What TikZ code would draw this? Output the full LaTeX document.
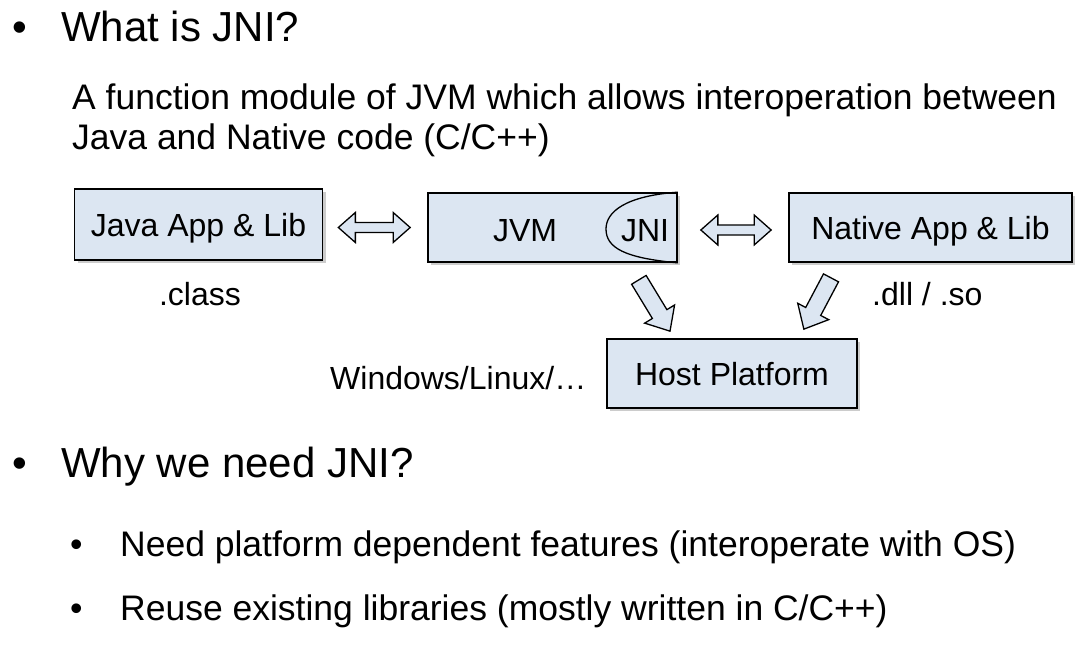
\documentclass[tikz,border=0pt]{standalone}
\usepackage{fontspec}
\setmainfont{Liberation Sans}
\usetikzlibrary{calc,shadows}

\definecolor{boxblue}{RGB}{220,230,242}

% hollow block arrow, tail #1 to tip #2
\newcommand\flowarrow[2]{%
  \coordinate (hb) at ($(#2)!20pt!(#1)$);
  \draw[blockarr] ($(#1)!8.5pt!90:(#2)$) -- ($(hb)!8.5pt!-90:(#1)$) -- ($(hb)!17.5pt!-90:(#1)$)
    -- (#2) -- ($(hb)!17.5pt!90:(#1)$) -- ($(hb)!8.5pt!90:(#1)$) -- ($(#1)!8.5pt!-90:(#2)$) -- cycle;}
% hollow double block arrow between #1 and #2
\newcommand\dblarrow[2]{%
  \coordinate (ha) at ($(#1)!17pt!(#2)$);
  \coordinate (hb) at ($(#2)!17pt!(#1)$);
  \draw[blockarr] (#1) -- ($(ha)!15pt!90:(#2)$) -- ($(ha)!5pt!90:(#2)$) -- ($(hb)!5pt!-90:(#1)$)
    -- ($(hb)!15pt!-90:(#1)$) -- (#2) -- ($(hb)!15pt!90:(#1)$) -- ($(hb)!5pt!90:(#1)$)
    -- ($(ha)!5pt!-90:(#2)$) -- ($(ha)!15pt!-90:(#2)$) -- cycle;}

\begin{document}
\begin{tikzpicture}
  [x=1pt,y=-1pt,
   box/.style={draw,line width=1.7pt,fill=boxblue,
     drop shadow={shadow xshift=3pt,shadow yshift=-3pt,opacity=.4},
     text height=23pt,text depth=0pt,font=\fontsize{32}{38}\selectfont},
   lbl/.style={anchor=base west,inner sep=0pt,font=\fontsize{32}{38}\selectfont},
   head/.style={anchor=base west,inner sep=0pt,font=\fontsize{42}{50}\selectfont},
   body/.style={anchor=base west,inner sep=0pt,font=\fontsize{35.5}{42}\selectfont},
   blockarr/.style={draw,line width=1.3pt,fill=boxblue,line join=miter}]
  \useasboundingbox (0,0) rectangle (1089,647);

  % headings and text
  \node[head] (b1) at (12,42) {•};
  \node[head] (what) at (61,42) {What is JNI?};
  \node[body] (def1) at (72,110) {A function module of JVM which allows interoperation between};
  \node[body] (def2) at (72,150) {Java and Native code (C/C++)};
  \node[head] (b2) at (12,477) {•};
  \node[head] (why) at (61,477) {Why we need JNI?};
  \node[body] (b3) at (70,556) {•};
  \node[body] (need) at (120,556) {Need platform dependent features (interoperate with OS)};
  \node[body] (b4) at (70,620) {•};
  \node[body] (reuse) at (120,620) {Reuse existing libraries (mostly written in C/C++)};

  % boxes
  \node[box,minimum width=248pt,minimum height=71pt] (java) at (198.5,224.5) {Java App \& Lib};
  \node[box,minimum width=249pt,minimum height=69pt] (jvm) at (552.5,227.5) {};
  \node[box,minimum width=283pt,minimum height=69pt] (native) at (930.5,227.5) {Native App \& Lib};
  \node[box,minimum width=250pt,minimum height=69pt] (host) at (732,373.5) {Host Platform};
  \node[lbl,anchor=base] (jvmtxt) at (525,241) {JVM};
  \node[lbl,anchor=base] (jnitxt) at (645,241) {JNI};
  \draw[line width=1.3pt] (jvm.north east) .. controls (625,196) and (606,212) .. (606,229)
    .. controls (606,248) and (625,258) .. (jvm.south east);

  \node[lbl,anchor=base] (cls) at (200,305) {.class};
  \node[lbl] (dll) at (872,305) {.dll / .so};
  \node[lbl] (os) at (330,389) {Windows/Linux/…};

  % arrows
  \coordinate (jaR) at ($(java.east)+(15,3)$);
  \coordinate (jvL) at ($(jvm.west)+(-17,0)$);
  \coordinate (jvR) at ($(jvm.east)+(23,2.5)$);
  \coordinate (naL) at ($(native.west)+(-17,2.5)$);
  \coordinate (jvD) at ($(jvm.south east)+(-39,17)$);
  \coordinate (hoL) at ($(host.north)+(-62,-7)$);
  \coordinate (naD) at ($(native.south)+(-99.5,15)$);
  \coordinate (hoR) at ($(host.north east)+(-54,-9)$);
  \foreach \from/\to in {jaR/jvL,jvR/naL}
    \dblarrow{\from}{\to};
  \foreach \from/\to in {jvD/hoL,naD/hoR}
    \flowarrow{\from}{\to};
\end{tikzpicture}
\end{document}
